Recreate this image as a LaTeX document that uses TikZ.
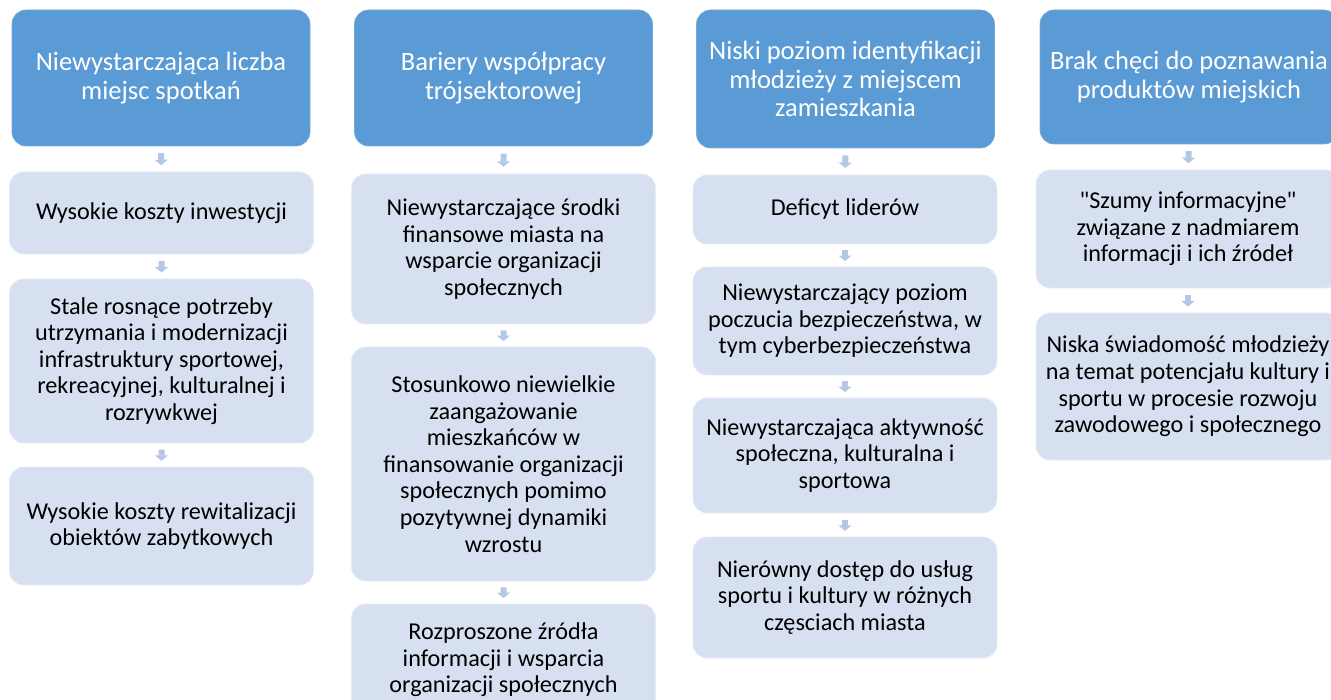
\documentclass[tikz,border=0pt]{standalone}
\usepackage{fontspec}
\setmainfont{Carlito}[Ligatures=TeXOff]
\usetikzlibrary{calc,arrows.meta}
\definecolor{headblue}{HTML}{5B9BD5}
\definecolor{childblue}{HTML}{D6E0F1}
\definecolor{arrblue}{HTML}{B4C7E7}
\tikzset{
  headbox/.style={rectangle, rounded corners=14pt, fill=headblue, draw=headblue!85!white, line width=0.6pt,
    text=white, align=center, font=\fontsize{26.5pt}{28.4pt}\selectfont, minimum width=298pt, inner sep=0pt},
  childbox/.style={rectangle, rounded corners=14pt, fill=childblue, draw=childblue!60!white, line width=0.8pt,
    text=black, align=center, font=\fontsize{24.2pt}{26.6pt}\selectfont, minimum width=304pt, inner sep=0pt},
  downarr/.style={draw=arrblue, line width=6pt, -{Triangle[width=13pt,length=5.5pt]}, shorten >=0pt}
}
\newcommand{\conn}[2]{\draw[downarr] ($(#1.south)!0.27!(#2.north)$) -- ($(#1.south)!0.75!(#2.north)$);}
\begin{document}
\begin{tikzpicture}[x=1pt,y=-1pt]
\useasboundingbox (0,0) rectangle (1331,700);
\clip (0,0) rectangle (1331,700);
% column 1
\node[headbox, minimum height=136pt] (h1) at (161,78) {Niewystarczająca liczba\\miejsc spotkań};
\node[childbox, minimum height=82pt] (c11) at (161.5,213) {Wysokie koszty inwestycji};
\node[childbox, minimum height=164pt] (c12) at (161.5,361) {Stale rosnące potrzeby\\utrzymania i modernizacji\\infrastruktury sportowej,\\rekreacyjnej, kulturalnej i\\rozrywkwej};
\node[childbox, minimum height=118pt] (c13) at (161.5,526) {Wysokie koszty rewitalizacji\\obiektów zabytkowych};
% column 2
\node[headbox, minimum height=136pt] (h2) at (503.5,78) {Bariery współpracy\\trójsektorowej};
\node[childbox, minimum height=150pt] (c21) at (503.5,249) {Niewystarczające środki\\finansowe miasta na\\wsparcie organizacji\\społecznych};
\node[childbox, minimum height=234pt] (c22) at (503.5,464) {Stosunkowo niewielkie\\zaangażowanie\\mieszkańców w\\finansowanie organizacji\\społecznych pomimo\\pozytywnej dynamiki\\wzrostu};
\node[childbox, minimum height=112pt] (c23) at (503.5,660) {Rozproszone źródła\\informacji i wsparcia\\organizacji społecznych};
% column 3
\node[headbox, minimum height=138pt] (h3) at (845.5,79) {Niski poziom identyfikacji\\młodzieży z miejscem\\zamieszkania};
\node[childbox, minimum height=69pt] (c31) at (845,209.5) {Deficyt liderów};
\node[childbox, minimum height=108pt] (c32) at (845,321) {Niewystarczający poziom\\poczucia bezpieczeństwa, w\\tym cyberbezpieczeństwa};
\node[childbox, minimum height=115pt] (c33) at (845,455.5) {Niewystarczająca aktywność\\społeczna, kulturalna i\\sportowa};
\node[childbox, minimum height=121pt] (c34) at (845,597.5) {Nierówny dostęp do usług\\sportu i kultury w różnych\\częsciach miasta};
% column 4
\node[headbox, minimum height=134pt] (h4) at (1189,77) {Brak chęci do poznawania\\produktów miejskich};
\node[childbox, minimum height=118pt] (c41) at (1188,229) {"Szumy informacyjne"\\związane z nadmiarem\\informacji i ich źródeł};
\node[childbox, minimum height=147pt] (c42) at (1188,386.5) {Niska świadomość młodzieży\\na temat potencjału kultury i\\sportu w procesie rozwoju\\zawodowego i społecznego};
% connectors
\conn{h1}{c11}\conn{c11}{c12}\conn{c12}{c13}
\conn{h2}{c21}\conn{c21}{c22}\conn{c22}{c23}
\conn{h3}{c31}\conn{c31}{c32}\conn{c32}{c33}\conn{c33}{c34}
\conn{h4}{c41}\conn{c41}{c42}
\end{tikzpicture}
\end{document}
